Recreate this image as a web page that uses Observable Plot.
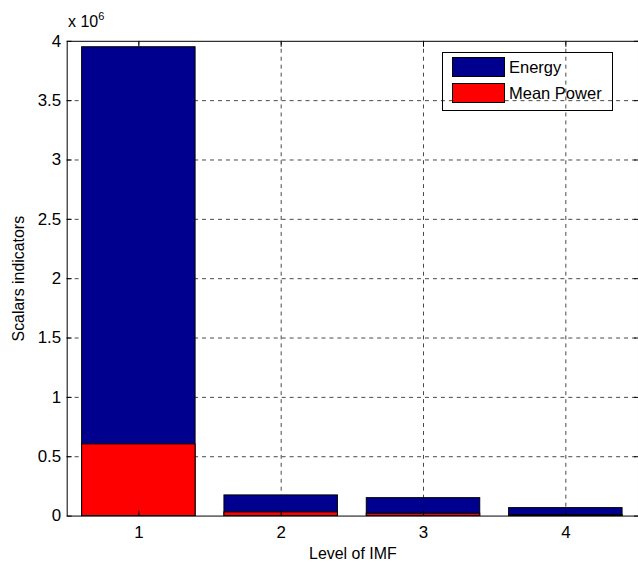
<!DOCTYPE html>
<html>
<head>
<meta charset="utf-8">
<script src="https://cdn.jsdelivr.net/npm/d3@7"></script>
<script src="https://cdn.jsdelivr.net/npm/@observablehq/plot@0.6"></script>
<style>
  html, body { margin: 0; padding: 0; background: #fff; overflow: hidden; }
  #wrap { position: relative; width: 638px; height: 569px; overflow: hidden; font-family: "Liberation Sans", Arial, sans-serif; }
  #wrap svg [aria-label$="tick label"] { font-size: 17px; }
  #wrap svg [aria-label$="axis label"] { font-size: 16px; }
  #exp { position: absolute; left: 68px; top: 11px; font-size: 16px; color: #000; }
  #exp sup { font-size: 11px; position: relative; top: -1px; }
  #legend { position: absolute; left: 442px; top: 52px; width: 169px; height: 57px; border: 1px solid #000; background: transparent; font-size: 16.5px; }
  #legend .row { position: absolute; left: 9px; height: 20px; display: flex; align-items: center; }
  #legend .sw { width: 51px; height: 18px; border: 1px solid #000; margin-right: 4px; }
</style>
</head>
<body>
<div id="wrap"></div>
<script>
// IMF levels and the two scalar indicators per level
const levels = [1, 2, 3, 4];
const energy = [3950000, 174000, 151000, 67000];
const meanPower = [604000, 31000, 20000, 8000];
const seriesNames = ["Energy", "Mean Power"];
const seriesColors = ["#00008F", "#FF0000"];
const yTicks = [0, 0.5e6, 1e6, 1.5e6, 2e6, 2.5e6, 3e6, 3.5e6, 4e6];

const energyRows = levels.map((l, i) => ({level: l, value: energy[i]}));
const powerRows = levels.map((l, i) => ({level: l, value: meanPower[i]}));

const fmt = d => String(+(d / 1e6).toFixed(1));
const font = "'Liberation Sans', Arial, sans-serif";

const chart = Plot.plot({
  width: 641,
  height: 569,
  marginLeft: 67,
  marginTop: 41,
  marginBottom: 51,
  marginRight: 0,
  style: {fontFamily: font, fontSize: "16px", background: "#fff", color: "#000", overflow: "visible"},
  x: {domain: levels, type: "band", paddingInner: 0.2, paddingOuter: 0.1, label: null},
  y: {domain: [0, 4e6], label: null},
  marks: [
    // dashed grid behind the bars
    Plot.gridY(yTicks.slice(1, -1), {stroke: "#333", strokeOpacity: 0.9, strokeDasharray: "4,4"}),
    Plot.gridX(levels, {stroke: "#333", strokeOpacity: 0.9, strokeDasharray: "4,4"}),
    // overlaid bars: energy behind, mean power in front
    Plot.barY(energyRows, {x: "level", y: "value", fill: seriesColors[0], stroke: "#000", strokeWidth: 1}),
    Plot.barY(powerRows, {x: "level", y: "value", fill: seriesColors[1], stroke: "#000", strokeWidth: 1}),
    // inward tick marks
    Plot.axisY(yTicks, {anchor: "left", tickSize: -5, tickFormat: () => "", label: null}),
    Plot.axisY(yTicks, {anchor: "right", tickSize: -5, tickFormat: () => "", label: null}),
    Plot.axisX(levels, {anchor: "top", tickSize: -5, tickFormat: () => "", label: null}),
    Plot.axisX(levels, {anchor: "bottom", tickSize: -5, tickFormat: () => "", label: null}),
    // tick labels
    Plot.axisY(yTicks, {anchor: "left", tickSize: 0, tickPadding: 6, tickFormat: fmt, label: null}),
    Plot.axisX(levels, {anchor: "bottom", tickSize: 0, tickPadding: 10, label: null}),
    // axis titles
    Plot.axisY(yTicks, {anchor: "left", tickSize: 0, tickFormat: () => "",
      label: "Scalars indicators", labelAnchor: "center", labelOffset: 55, labelArrow: "none"}),
    Plot.axisX(levels, {anchor: "bottom", tickSize: 0, tickFormat: () => "",
      label: "Level of IMF", labelAnchor: "center", labelOffset: 43, labelArrow: "none"}),
    Plot.frame({stroke: "#000", strokeWidth: 1})
  ]
});

const wrap = document.getElementById("wrap");
wrap.appendChild(chart);

const exp = document.createElement("div");
exp.id = "exp";
exp.innerHTML = "x 10<sup>6</sup>";
wrap.appendChild(exp);

const legend = document.createElement("div");
legend.id = "legend";
seriesNames.forEach((name, i) => {
  const row = document.createElement("div");
  row.className = "row";
  row.style.top = (4 + i * 26) + "px";
  const sw = document.createElement("div");
  sw.className = "sw";
  sw.style.background = seriesColors[i];
  const t = document.createElement("span");
  t.textContent = name;
  row.appendChild(sw);
  row.appendChild(t);
  legend.appendChild(row);
});
wrap.appendChild(legend);
</script>
</body>
</html>
